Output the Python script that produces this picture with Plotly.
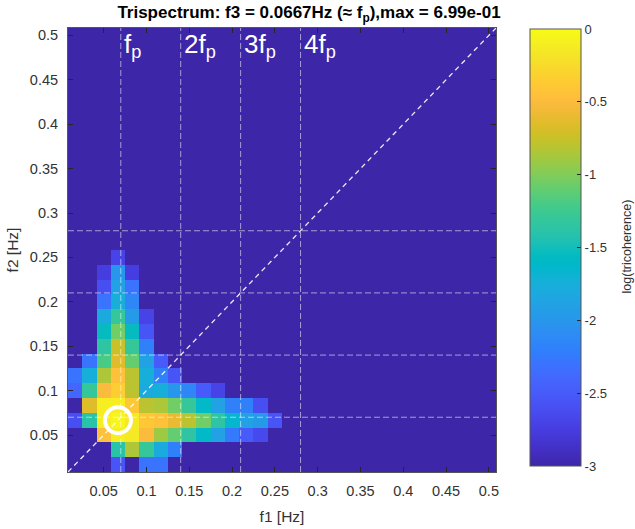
import plotly.graph_objects as go

# ---------------- data ----------------
N_BINS = 30
DF = 1.0 / 60.0
freqs = [k * DF for k in range(1, N_BINS + 1)]          # bin centres f1 / f2 [Hz]
BG = -3.0                                              # background level (log tricoherence)

# log10(tricoherence), rows = f2 bins 1..15, cols = f1 bins 1..15
block = [
    [-3.0, -3.0, -3.0, -2.55, -3.0, -2.3, -2.3, -3.0, -3.0, -3.0, -3.0, -3.0, -3.0, -3.0, -3.0],
    [-3.0, -3.0, -3.0, -1.4, -0.85, -1.3, -1.8, -2.2, -3.0, -3.0, -3.0, -3.0, -3.0, -3.0, -3.0],
    [-3.0, -3.0, -0.45, -0.1, -0.15, -0.5, -0.9, -1.1, -1.35, -1.6, -1.9, -2.25, -2.5, -2.65, -3.0],
    [-2.6, -1.4, -0.1, -0.05, -0.15, -0.4, -0.45, -0.6, -0.8, -1.05, -1.35, -1.65, -1.9, -1.95, -2.55],
    [-3.0, -0.65, -0.1, -0.1, -0.4, -0.8, -0.85, -1.05, -1.3, -1.6, -1.9, -2.2, -2.2, -2.6, -3.0],
    [-2.4, -1.3, -0.5, -0.35, -0.8, -1.8, -1.75, -2.0, -2.15, -2.5, -2.7, -3.0, -3.0, -3.0, -3.0],
    [-2.3, -1.75, -0.85, -0.45, -0.8, -1.75, -2.2, -2.55, -3.0, -3.0, -3.0, -3.0, -3.0, -3.0, -3.0],
    [-3.0, -2.3, -1.2, -0.65, -1.1, -1.9, -2.5, -3.0, -3.0, -3.0, -3.0, -3.0, -3.0, -3.0, -3.0],
    [-3.0, -3.0, -1.35, -0.75, -1.3, -2.2, -3.0, -3.0, -3.0, -3.0, -3.0, -3.0, -3.0, -3.0, -3.0],
    [-3.0, -3.0, -1.55, -1.05, -1.55, -2.55, -3.0, -3.0, -3.0, -3.0, -3.0, -3.0, -3.0, -3.0, -3.0],
    [-3.0, -3.0, -1.8, -1.3, -1.95, -2.7, -3.0, -3.0, -3.0, -3.0, -3.0, -3.0, -3.0, -3.0, -3.0],
    [-3.0, -3.0, -2.3, -1.75, -2.15, -3.0, -3.0, -3.0, -3.0, -3.0, -3.0, -3.0, -3.0, -3.0, -3.0],
    [-3.0, -3.0, -2.6, -1.9, -2.3, -3.0, -3.0, -3.0, -3.0, -3.0, -3.0, -3.0, -3.0, -3.0, -3.0],
    [-3.0, -3.0, -2.75, -2.0, -2.75, -3.0, -3.0, -3.0, -3.0, -3.0, -3.0, -3.0, -3.0, -3.0, -3.0],
    [-3.0, -3.0, -3.0, -2.7, -3.0, -3.0, -3.0, -3.0, -3.0, -3.0, -3.0, -3.0, -3.0, -3.0, -3.0],
]

f3 = 0.0667                  # fixed third frequency [Hz]
fp = 0.07                    # peak frequency used for guide lines [Hz]
harmonics = [1, 2, 3, 4]
harmonic_labels = ["f<sub>p</sub>", "2f<sub>p</sub>", "3f<sub>p</sub>", "4f<sub>p</sub>"]
x_ticks = [0.05, 0.1, 0.15, 0.2, 0.25, 0.3, 0.35, 0.4, 0.45, 0.5]
cbar_ticks = [-3, -2.5, -2, -1.5, -1, -0.5, 0]
cbar_ticktext = ["-3", "-2.5", "-2", "-1.5", "-1", "-0.5", "0"]
title_text = "<b>Trispectrum: f3 = 0.0667Hz (≈ f<sub>p</sub>),max = 6.99e-01</b>"

# full grid: measured block padded with background level
z = []
for j in range(N_BINS):
    if j < len(block):
        row = block[j] + [BG] * (N_BINS - len(block[j]))
    else:
        row = [BG] * N_BINS
    z.append(row)

# MATLAB parula colormap (64 entries)
parula = [
    (0.2422, 0.1504, 0.6603), (0.2504, 0.1650, 0.7076), (0.2578, 0.1818, 0.7511), (0.2647, 0.1978, 0.7952),
    (0.2706, 0.2147, 0.8364), (0.2751, 0.2342, 0.8710), (0.2783, 0.2559, 0.8991), (0.2803, 0.2782, 0.9221),
    (0.2813, 0.3006, 0.9414), (0.2810, 0.3228, 0.9579), (0.2795, 0.3447, 0.9717), (0.2760, 0.3667, 0.9829),
    (0.2699, 0.3892, 0.9906), (0.2602, 0.4123, 0.9952), (0.2440, 0.4358, 0.9988), (0.2206, 0.4603, 0.9973),
    (0.1963, 0.4847, 0.9892), (0.1834, 0.5074, 0.9798), (0.1786, 0.5289, 0.9682), (0.1764, 0.5499, 0.9520),
    (0.1687, 0.5703, 0.9359), (0.1540, 0.5902, 0.9218), (0.1460, 0.6091, 0.9079), (0.1380, 0.6276, 0.8973),
    (0.1248, 0.6459, 0.8883), (0.1113, 0.6635, 0.8763), (0.0952, 0.6798, 0.8598), (0.0689, 0.6948, 0.8394),
    (0.0297, 0.7082, 0.8163), (0.0036, 0.7203, 0.7917), (0.0067, 0.7312, 0.7660), (0.0433, 0.7411, 0.7394),
    (0.0964, 0.7500, 0.7120), (0.1408, 0.7584, 0.6842), (0.1717, 0.7670, 0.6554), (0.1938, 0.7758, 0.6251),
    (0.2161, 0.7843, 0.5923), (0.2470, 0.7918, 0.5567), (0.2906, 0.7973, 0.5188), (0.3406, 0.8008, 0.4789),
    (0.3909, 0.8029, 0.4354), (0.4456, 0.8024, 0.3909), (0.5044, 0.7993, 0.3480), (0.5616, 0.7942, 0.3045),
    (0.6174, 0.7876, 0.2612), (0.6720, 0.7793, 0.2227), (0.7242, 0.7698, 0.1910), (0.7738, 0.7598, 0.1646),
    (0.8203, 0.7498, 0.1535), (0.8634, 0.7406, 0.1596), (0.9035, 0.7330, 0.1774), (0.9393, 0.7288, 0.2100),
    (0.9728, 0.7298, 0.2394), (0.9956, 0.7434, 0.2371), (0.9970, 0.7659, 0.2199), (0.9952, 0.7893, 0.2028),
    (0.9892, 0.8136, 0.1885), (0.9786, 0.8386, 0.1766), (0.9676, 0.8639, 0.1643), (0.9610, 0.8890, 0.1537),
    (0.9597, 0.9135, 0.1423), (0.9628, 0.9373, 0.1265), (0.9691, 0.9606, 0.1064), (0.9769, 0.9839, 0.0805),
]
colorscale = [[i / (len(parula) - 1), "rgb(%d,%d,%d)" % tuple(round(c * 255) for c in rgb)]
              for i, rgb in enumerate(parula)]

lo = freqs[0] - DF / 2
hi = freqs[-1] + DF / 2

FONT = "Liberation Sans, Arial, Helvetica, sans-serif"
AX_COL = "#262626"
TXT_COL = "#333333"
PLOT_L, PLOT_R = 68, 496          # plot area edges in px (figure 635 wide)
PLOT_W = PLOT_R - PLOT_L

fig = go.Figure()
fig.add_trace(go.Heatmap(
    x=freqs, y=freqs, z=z, zmin=-3, zmax=0, colorscale=colorscale,
    colorbar=dict(
        tickvals=cbar_ticks, ticktext=cbar_ticktext, ticks="inside", ticklen=4,
        tickcolor=AX_COL, tickfont=dict(family=FONT, size=13, color=TXT_COL),
        outlinecolor="#555555", outlinewidth=1, thickness=51, xpad=0, ypad=0,
        x=(530 - PLOT_L) / PLOT_W, xanchor="left", y=0.5056, yanchor="middle",
        len=0.984, lenmode="fraction",
    ),
    hoverinfo="skip",
))

# circle at (f3, f3)
fig.add_trace(go.Scatter(
    x=[f3], y=[f3], mode="markers",
    marker=dict(symbol="circle-open", size=26, color="white", line=dict(width=4, color="white")),
    showlegend=False, hoverinfo="skip",
))

shapes = []
for n in harmonics:
    v = n * fp
    shapes.append(dict(type="line", xref="x", yref="y", x0=v, x1=v, y0=lo, y1=hi,
                       line=dict(color="rgba(255,255,255,0.55)", width=1, dash="6px,3px")))
    shapes.append(dict(type="line", xref="x", yref="y", x0=lo, x1=hi, y0=v, y1=v,
                       line=dict(color="rgba(255,255,255,0.55)", width=1, dash="6px,3px")))
shapes.append(dict(type="line", xref="x", yref="y", x0=lo, x1=hi, y0=lo, y1=hi,
                   line=dict(color="rgba(255,255,255,0.9)", width=1.3, dash="5px,4px")))

annotations = []
for n, lab in zip(harmonics, harmonic_labels):
    annotations.append(dict(x=n * fp, y=hi, xref="x", yref="y", text=lab, showarrow=False,
                            xanchor="left", yanchor="top", xshift=1, yshift=1,
                            font=dict(family=FONT, size=26, color="white")))
annotations.append(dict(x=(627 - PLOT_L) / PLOT_W, y=0.508, xref="paper", yref="paper",
                        text="log(tricoherence)",
                        showarrow=False, textangle=-90, xanchor="center", yanchor="middle",
                        font=dict(family=FONT, size=12.5, color=TXT_COL)))

axis_common = dict(
    range=[lo, hi], tickvals=x_ticks, ticks="inside", ticklen=5, tickcolor=AX_COL,
    showline=True, linecolor="#555555", linewidth=1, mirror="ticks", showgrid=False,
    zeroline=False, tickfont=dict(family=FONT, size=14.5, color=TXT_COL),
)

fig.update_layout(
    width=635, height=529,
    margin=dict(l=PLOT_L, r=635 - PLOT_R, t=28, b=57, autoexpand=False),
    paper_bgcolor="white", plot_bgcolor="white",
    hovermode=False,
    title=dict(text=title_text, x=(309 - PLOT_L) / PLOT_W, xref="paper", y=1 - 12 / 529,
               yref="container", xanchor="center", yanchor="middle",
               font=dict(family=FONT, size=17, color="black")),
    xaxis=dict(axis_common, ticklabelstandoff=6,
               title=dict(text="f1 [Hz]", standoff=12,
                          font=dict(family=FONT, size=15.5, color=TXT_COL))),
    yaxis=dict(axis_common, ticklabelstandoff=6,
               title=dict(text="f2 [Hz]", standoff=7,
                          font=dict(family=FONT, size=15.5, color=TXT_COL))),
    shapes=shapes, annotations=annotations,
    showlegend=False,
)

fig.write_html("out.html", config={"displayModeBar": False},
               post_script="document.body.style.margin='0';")
